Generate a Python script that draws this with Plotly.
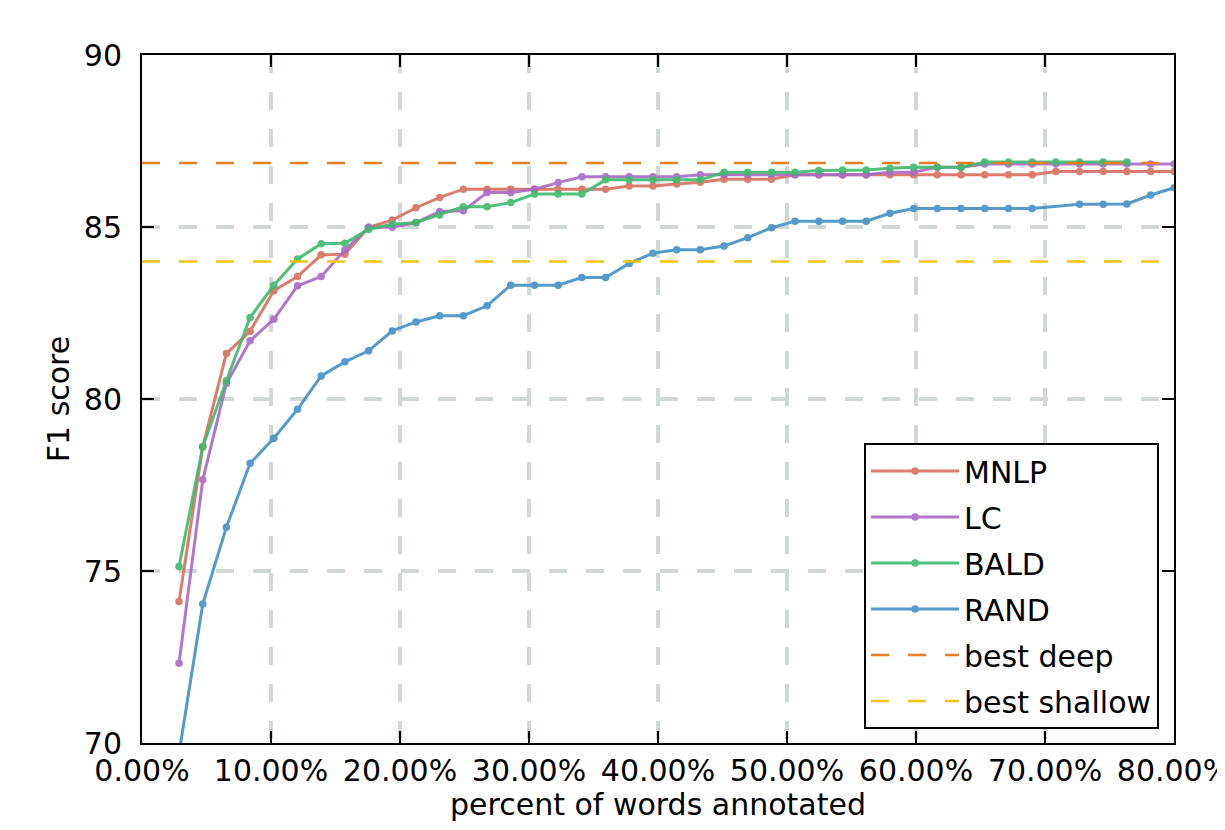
import plotly.graph_objects as go

# x positions (fraction of words annotated)
x_vals = [0.0287, 0.0471, 0.0654, 0.0838, 0.1022, 0.1206, 0.1389, 0.1573, 0.1757, 0.1940,
          0.2124, 0.2308, 0.2491, 0.2675, 0.2859, 0.3043, 0.3226, 0.3410, 0.3594, 0.3777,
          0.3961, 0.4145, 0.4328, 0.4512, 0.4696, 0.4880, 0.5063, 0.5247, 0.5431, 0.5614,
          0.5798, 0.5982, 0.6165, 0.6349, 0.6533, 0.6717, 0.6900, 0.7084, 0.7268, 0.7451,
          0.7635, 0.7819, 0.8002]

mnlp = [74.11, 78.61, 81.32, 81.97, 83.15, 83.56, 84.19, 84.21, 84.99, 85.20,
        85.56, 85.86, 86.10, 86.10, 86.10, 86.10, 86.10, 86.10, 86.10, 86.19,
        86.19, 86.25, 86.30, 86.39, 86.39, 86.39, 86.52, 86.52, 86.52, 86.52,
        86.52, 86.52, 86.52, 86.52, 86.52, 86.52, 86.52, 86.61, 86.61, 86.61,
        86.61, 86.61, 86.61]

lc = [72.32, 77.65, 80.45, 81.69, 82.32, 83.29, 83.56, 84.33, 84.99, 84.99,
      85.13, 85.45, 85.47, 86.00, 86.00, 86.10, 86.29, 86.46, 86.46, 86.46,
      86.46, 86.46, 86.52, 86.52, 86.52, 86.52, 86.52, 86.52, 86.52, 86.52,
      86.59, 86.59, 86.74, 86.74, 86.83, 86.83, 86.83, 86.83, 86.83, 86.83,
      86.83, 86.83, 86.83]

bald = [75.13, 78.61, 80.53, 82.37, 83.31, 84.07, 84.51, 84.53, 84.93, 85.08,
        85.13, 85.35, 85.59, 85.59, 85.71, 85.96, 85.96, 85.96, 86.37, 86.37,
        86.37, 86.37, 86.37, 86.59, 86.59, 86.59, 86.59, 86.64, 86.66, 86.66,
        86.71, 86.74, 86.74, 86.74, 86.89, 86.89, 86.89, 86.89, 86.89, 86.89,
        86.89]

rand = [69.70, 74.04, 76.27, 78.13, 78.86, 79.70, 80.67, 81.08, 81.40, 81.98,
        82.24, 82.42, 82.42, 82.71, 83.31, 83.31, 83.31, 83.53, 83.53, 83.94,
        84.24, 84.34, 84.34, 84.45, 84.69, 84.98, 85.17, 85.17, 85.17, 85.17,
        85.40, 85.54, 85.54, 85.54, 85.54, 85.54, 85.54, None, 85.66, 85.66,
        85.67, 85.93, 86.14]

best_deep = 86.86
best_shallow = 84.0

x_ticks = [0.0, 0.1, 0.2, 0.3, 0.4, 0.5, 0.6, 0.7, 0.8]
y_ticks = [70, 75, 80, 85, 90]

FONT = "DejaVu Sans"
series = [
    ("MNLP", mnlp, "#d8705f"),
    ("LC", lc, "#a96ac4"),
    ("BALD", bald, "#3fba6d"),
    ("RAND", rand, "#4390c6"),
]

fig = go.Figure()
for name, ys, col in series:
    fig.add_trace(go.Scatter(
        x=x_vals[:len(ys)], y=ys, name=name, mode="lines+markers",
        line=dict(color=col, width=3), marker=dict(color=col, size=7.5),
        opacity=0.9, connectgaps=True, legendgroup=name,
    ))

fig.add_trace(go.Scatter(
    x=[0, 0.8], y=[best_deep, best_deep], name="best deep", mode="lines",
    line=dict(color="#e67e22", width=2.5, dash="18px,19px"), legendgroup="deep",
))
fig.add_trace(go.Scatter(
    x=[0, 0.8], y=[best_shallow, best_shallow], name="best shallow", mode="lines",
    line=dict(color="#f1c40f", width=2.5, dash="18px,19px"), legendgroup="shallow",
))

grid = dict(showgrid=True, gridcolor="#cfd7d7", gridwidth=3.5, griddash="18px,19px",
            zeroline=False, showline=True, linecolor="black", linewidth=2,
            mirror="ticks", ticks="inside", ticklen=12, tickwidth=1.5, tickcolor="black",
            ticklabeloverflow="allow",
            tickfont=dict(family=FONT, size=30, color="black"))

# page has an 8px body margin, so the figure is sized to fit inside the window
fig.update_layout(
    width=1209, height=814,
    margin=dict(l=134, r=43, t=47, b=79),
    paper_bgcolor="white", plot_bgcolor="white",
    font=dict(family=FONT, size=30, color="black"),
    xaxis=dict(range=[0, 0.8], tickvals=x_ticks, tickformat=".2%",
               title=dict(text="percent of words annotated", font=dict(family=FONT, size=30), standoff=19),
               automargin=False, **grid),
    yaxis=dict(range=[70, 90], tickvals=y_ticks, ticklabelstandoff=12,
               title=dict(text="F1 score", font=dict(family=FONT, size=30), standoff=5),
               automargin=False, **grid),
    legend=dict(x=0.9855, y=0.0203, xanchor="right", yanchor="bottom",
                bordercolor="black", borderwidth=2, bgcolor="white",
                font=dict(family=FONT, size=30, color="black"),
                itemwidth=88, tracegroupgap=4, traceorder="grouped"),
    showlegend=True,
)

fig.write_html("out.html")
